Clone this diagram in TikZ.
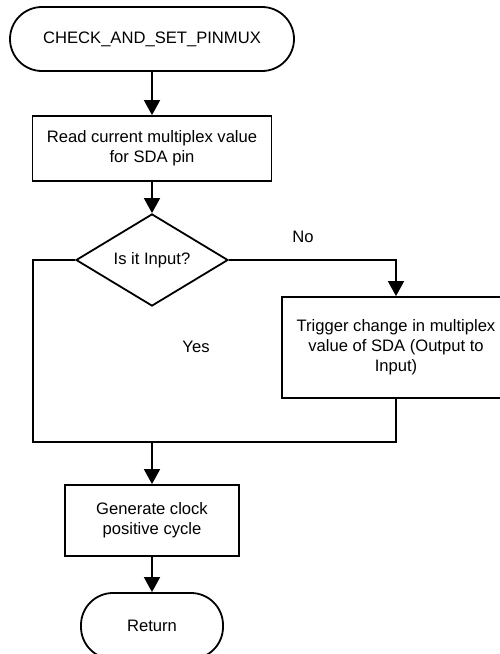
\documentclass[tikz,border=0pt]{standalone}
\usepackage{fontspec}
\setmainfont{Liberation Sans}
\usetikzlibrary{arrows.meta,shapes.geometric}

\tikzset{
  base/.style={draw=black, line width=1.8pt, align=center, inner sep=0pt,
               font=\fontsize{16.6}{20}\selectfont},
  terminal/.style={base, rounded corners=32pt},
  process/.style={base, rectangle},
  decision/.style={base, diamond, minimum width=152pt, minimum height=90pt},
  flow/.style={line width=1.8pt, -{Triangle[width=16pt,length=15pt]}},
  wire/.style={line width=1.8pt},
  lbl/.style={font=\fontsize{16.6}{20}\selectfont, inner sep=0pt}
}

\begin{document}
\begin{tikzpicture}[x=1pt, y=-1pt]
  \useasboundingbox (0,0) rectangle (500,654);
  \clip (0,0) rectangle (500,654);

  % flowchart nodes, main column at x = 152
  \node[terminal, minimum width=284pt, minimum height=64pt] (start) at (152,39) {CHECK\_AND\_SET\_PINMUX};
  \node[process, minimum width=239pt, minimum height=65pt] (read) at (152,148.5) {Read current multiplex value\\for SDA pin};
  \node[decision] (dec) at (152,260) {Is it Input?};
  \node[process, minimum width=228pt, minimum height=101pt] (trig) at (396,347.5) {Trigger change in multiplex\\value of SDA (Output to\\Input)};
  \node[process, minimum width=174pt, minimum height=71pt] (gen) at (152,520.5) {Generate clock\\positive cycle};
  \node[terminal, minimum width=142pt, minimum height=66pt] (ret) at (152,626) {Return};

  % branch labels
  \node[lbl] (no) at (303,237) {No};
  \node[lbl] (yes) at (196,347) {Yes};

  % routing points
  \coordinate (merge) at (152,442);
  \coordinate (leftcorner) at (33,442);
  \coordinate (rightcorner) at (396,442);

  % connectors
  \draw[flow] (start.south) -- (read.north);
  \draw[flow] (read.south) -- (dec.north);
  \draw[flow] (dec.east) -| (trig.north);
  \draw[wire] (dec.west) -| (leftcorner) -- (rightcorner) -- (trig.south);
  \draw[flow] (merge) -- (gen.north);
  \draw[flow] (gen.south) -- (ret.north);
\end{tikzpicture}
\end{document}
